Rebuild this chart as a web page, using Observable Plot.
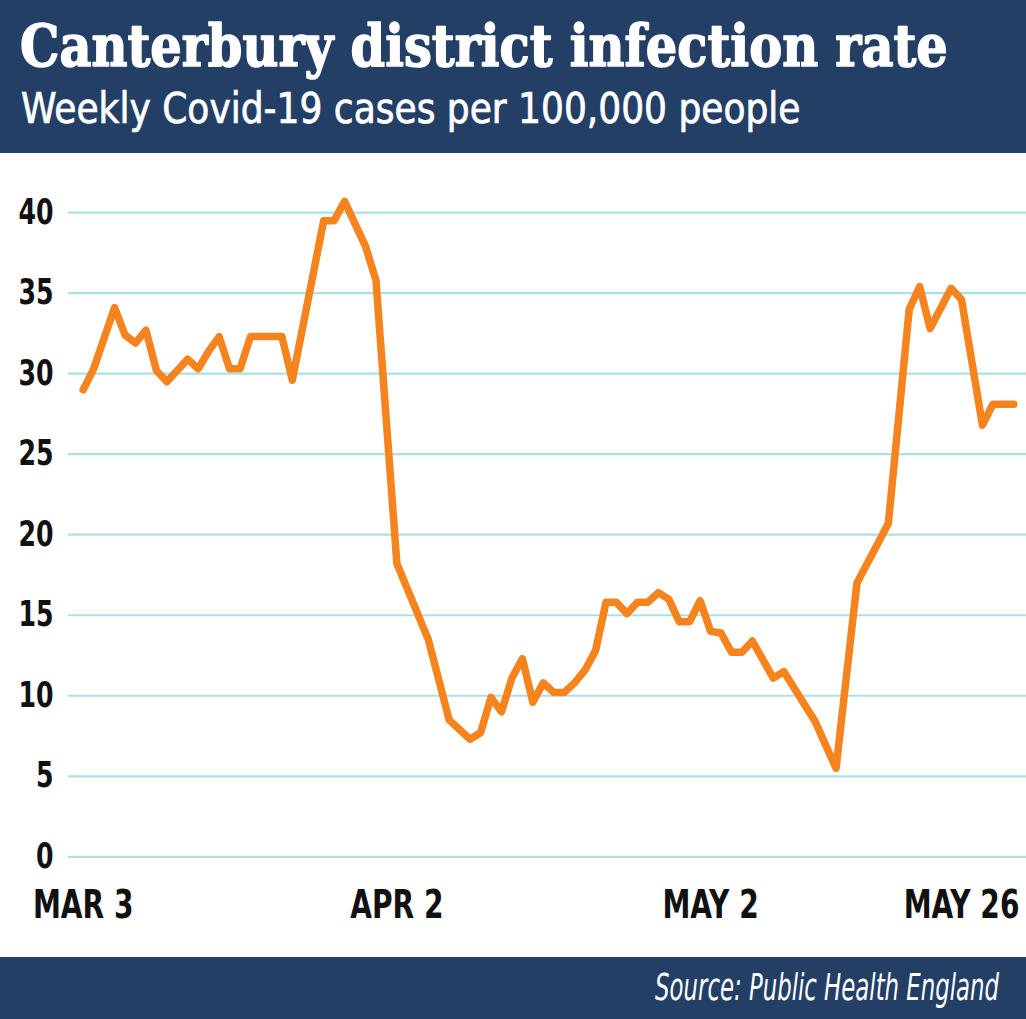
<!DOCTYPE html>
<html><head><meta charset="utf-8">
<script src="https://cdn.jsdelivr.net/npm/d3@7"></script>
<script src="https://cdn.jsdelivr.net/npm/@observablehq/plot@0.6"></script>
<style>
html,body{margin:0;padding:0;background:#fff;}
#wrap{width:1026px;height:1019px;position:relative;overflow:hidden;}
svg{display:block;}
</style></head><body><div id="wrap"></div>
<script>
// ---- data ----
const dates = [
  "2021-03-03","2021-03-04","2021-03-06","2021-03-07","2021-03-08","2021-03-09","2021-03-10","2021-03-11",
  "2021-03-13","2021-03-14","2021-03-15","2021-03-16","2021-03-17","2021-03-18","2021-03-19","2021-03-22",
  "2021-03-23","2021-03-26","2021-03-27","2021-03-28","2021-03-30","2021-03-31","2021-04-02","2021-04-05",
  "2021-04-07","2021-04-09","2021-04-10","2021-04-11","2021-04-12","2021-04-13","2021-04-14","2021-04-15",
  "2021-04-16","2021-04-17","2021-04-18","2021-04-19","2021-04-20","2021-04-21","2021-04-22","2021-04-23",
  "2021-04-24","2021-04-25","2021-04-26","2021-04-27","2021-04-28","2021-04-29","2021-04-30","2021-05-01",
  "2021-05-02","2021-05-03","2021-05-04","2021-05-05","2021-05-06","2021-05-08","2021-05-09","2021-05-12",
  "2021-05-14","2021-05-16","2021-05-19","2021-05-21","2021-05-22","2021-05-23","2021-05-25","2021-05-26",
  "2021-05-28","2021-05-29","2021-05-31"
];
const rates = [
  29.0, 30.3, 34.1, 32.4, 31.9, 32.7, 30.2, 29.5,
  30.9, 30.3, 31.4, 32.3, 30.3, 30.3, 32.3, 32.3,
  29.6, 39.5, 39.5, 40.7, 37.9, 35.8, 18.2, 13.5,
  8.5, 7.3, 7.7, 9.9, 9.0, 11.1, 12.3, 9.6,
  10.8, 10.2, 10.2, 10.8, 11.6, 12.8, 15.8, 15.8,
  15.1, 15.8, 15.8, 16.4, 16.0, 14.6, 14.6, 15.9,
  14.0, 13.9, 12.7, 12.7, 13.4, 11.1, 11.5, 8.4,
  5.5, 17.0, 20.7, 34.0, 35.4, 32.8, 35.3, 34.6,
  26.8, 28.1, 28.1
];
const yTicks = [0, 5, 10, 15, 20, 25, 30, 35, 40];
const xTickDates = ["2021-03-03", "2021-04-02", "2021-05-02", "2021-05-26"];
const xTickLabels = ["MAR 3", "APR 2", "MAY 2", "MAY 26"];
const title = "Canterbury district infection rate";
const subtitle = "Weekly Covid-19 cases per 100,000 people";
const source = "Source: Public Health England";

// ---- styles ----
const NAVY = "#243f66";
const ORANGE = "#f5841f";
const GRID = "#ade0e6";
const NARROW = "'Liberation Sans Narrow', 'DejaVu Sans Condensed', 'Roboto', sans-serif";

const wrap = document.getElementById("wrap");

// squeeze a text horizontally to a target width with a real transform
function fitText(node, x, y, width) {
  const w = node.getComputedTextLength();
  node.setAttribute("transform", `translate(${x},${y}) scale(${(width / w).toFixed(4)},1)`);
}

// header
const header = d3.create("svg").attr("width", 1026).attr("height", 153);
header.append("rect").attr("width", 1026).attr("height", 153).attr("fill", NAVY);
const tTitle = header.append("text").attr("fill", "#fff")
  .attr("stroke", "#fff").attr("stroke-width", 1.6).attr("stroke-linejoin", "round")
  .attr("font-family", "'DejaVu Serif', serif").attr("font-weight", "bold").attr("font-size", 57)
  .text(title);
const tSub = header.append("text").attr("fill", "#fff")
  .attr("stroke", "#fff").attr("stroke-width", 0.7)
  .attr("font-family", NARROW).attr("font-size", 42)
  .text(subtitle);
wrap.appendChild(header.node());
fitText(tTitle.node(), 20, 66, 928);
fitText(tSub.node(), 21, 123, 780);

// chart
const data = dates.map((d, i) => ({date: new Date(d), rate: rates[i]}));
const tickDates = xTickDates.map(d => new Date(d));
const chart = Plot.plot({
  width: 1026,
  height: 804,
  marginLeft: 68,
  marginRight: 0,
  marginTop: 59,
  marginBottom: 101,
  style: {background: "#fff", color: "#111", fontFamily: NARROW},
  x: {type: "utc", domain: [data[0].date, data[data.length - 1].date], range: [82.7, 1013.3], label: null},
  y: {domain: [0, 40], range: [703.3, 59.1], label: null},
  marks: [
    Plot.gridY(yTicks, {stroke: GRID, strokeOpacity: 1, strokeWidth: 2.2}),
    Plot.axisY(yTicks, {tickSize: 0, tickPadding: 15, fontSize: 35, fontWeight: "bold", fill: "#111", stroke: "#111", strokeWidth: 0.6, label: null}),
    Plot.axisX(tickDates, {
      tickSize: 0, tickPadding: 34, fontSize: 39, fontWeight: "bold", fill: "#111", stroke: "#111", strokeWidth: 0.8, label: null,
      tickFormat: d => xTickLabels[tickDates.findIndex(t => +t === +d)]
    }),
    Plot.line(data, {x: "date", y: "rate", stroke: ORANGE, strokeWidth: 7.5, strokeLinejoin: "round", strokeLinecap: "round"})
  ]
});
wrap.appendChild(chart);

// condense axis tick labels (narrow heavy face in the original)
d3.select(chart).selectAll("g[aria-label='y-axis tick label'] text, g[aria-label='x-axis tick label'] text")
  .each(function() {
    const t = this.getAttribute("transform") || "";
    this.setAttribute("transform", `${t} scale(0.8,1)`);
  });

// footer
const footer = d3.create("svg").attr("width", 1026).attr("height", 62);
footer.append("rect").attr("width", 1026).attr("height", 62).attr("fill", NAVY);
const tSrc = footer.append("text").attr("fill", "#fff").attr("text-anchor", "end")
  .attr("font-family", NARROW).attr("font-style", "italic").attr("font-size", 37)
  .text(source);
wrap.appendChild(footer.node());
fitText(tSrc.node(), 999, 43, 344);
</script>
</body></html>
